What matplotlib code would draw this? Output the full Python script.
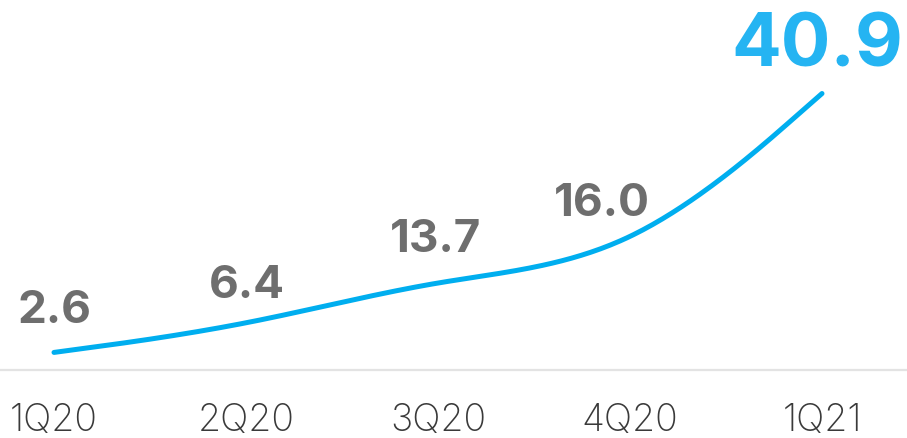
import numpy as np
import matplotlib
matplotlib.use("Agg")
import matplotlib.pyplot as plt

# Quarterly values
quarters = ["1Q20", "2Q20", "3Q20", "4Q20", "1Q21"]
values = [2.6, 6.4, 13.7, 16.0, 40.9]
value_labels = ["2.6", "6.4", "13.7", "16.0", "40.9"]

# Label offsets from each point (pixels) and styling
label_offsets = [(1, 29), (1, 29), (-3, 25), (-28, 46), (-5, 27)]
LINE_COLOR = "#00AEEF"
HILITE_COLOR = "#25B4F2"
LABEL_COLOR = "#6E6E6E"
TICK_COLOR = "#3A3A3A"
FONT = ["Inter", "DejaVu Sans"]


def basis_curve(x, y, n=60):
    """Uniform cubic B-spline with clamped ends (same construction as d3.curveBasis)."""
    p = np.column_stack([np.asarray(x, float), np.asarray(y, float)])
    t = np.linspace(0, 1, n)[:, None]

    def bez(a, b, c, d):
        return ((1 - t) ** 3) * a + 3 * ((1 - t) ** 2) * t * b + 3 * (1 - t) * t**2 * c + t**3 * d

    segs = [np.vstack([p[0], (5 * p[0] + p[1]) / 6])]
    pts = list(p) + [p[-1]]
    for i in range(2, len(pts)):
        p0, p1, p2 = pts[i - 2], pts[i - 1], pts[i]
        start = segs[-1][-1]
        segs.append(bez(start, (2 * p0 + p1) / 3, (p0 + 2 * p1) / 3, (p0 + 4 * p1 + p2) / 6))
    segs.append(np.vstack([segs[-1][-1], p[-1]]))
    out = np.vstack(segs)
    return out[:, 0], out[:, 1]


fig = plt.figure(figsize=(9.07, 4.38), dpi=100)
ax = fig.add_axes([0, (438 - 370) / 438, 1, 370 / 438])

xpos = np.arange(len(quarters))
cx, cy = basis_curve(xpos, values)
ax.plot(cx, cy, color=LINE_COLOR, lw=3.6, solid_capstyle="round")

ax.set_xlim(-54 / 192, (907 - 54) / 192)
ax.set_ylim(0, 370 / 6.76)

for i, (lab, (dx, dy)) in enumerate(zip(value_labels, label_offsets)):
    last = i == len(values) - 1
    ax.annotate(lab, (xpos[i], values[i]), xytext=(dx, dy), textcoords="offset pixels",
                ha="center", va="baseline",
                fontsize=53 if last else 33, fontweight="bold",
                color=HILITE_COLOR if last else LABEL_COLOR, family=FONT)

for side in ["top", "right", "left"]:
    ax.spines[side].set_visible(False)
ax.spines["bottom"].set_color("#E3E3E3")
ax.spines["bottom"].set_linewidth(1.6)
ax.set_yticks([])
ax.set_xticks(xpos)
ax.set_xticklabels(quarters, fontsize=27, color=TICK_COLOR, family=FONT, fontweight="light")
ax.tick_params(axis="x", length=0, pad=24)

fig.savefig("out.png", dpi=100)
